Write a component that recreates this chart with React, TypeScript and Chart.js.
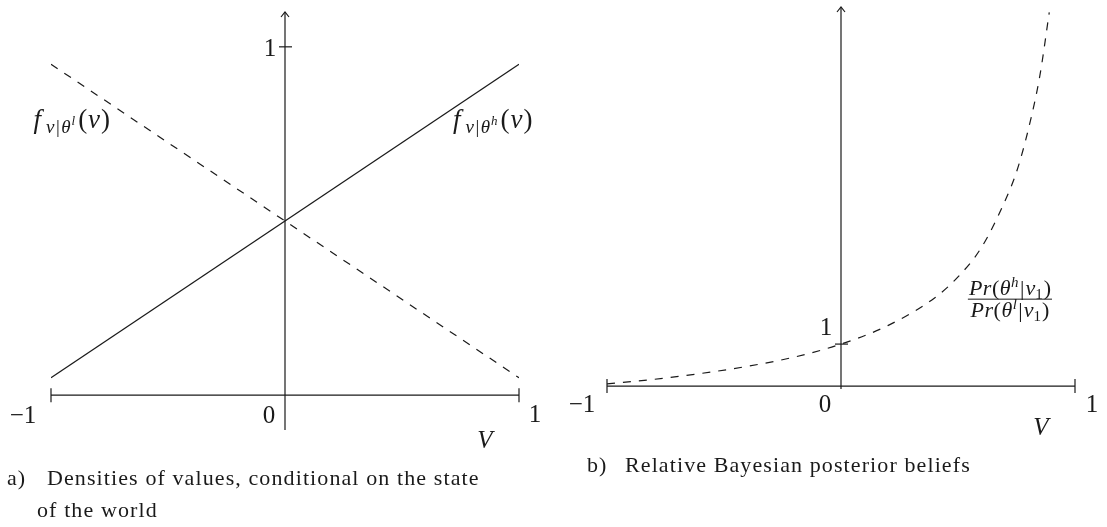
import React, { useEffect, useRef } from "react";
import { Chart, registerables } from "chart.js";

Chart.register(...registerables);

// Panel a: densities of the value V in the high and low state
const densityV = [-1, 1];
const densityHigh = [0.05, 0.95];
const densityLow = [0.95, 0.05];

// Panel b: ratio of posterior beliefs Pr(θh|v1) / Pr(θl|v1)
const ratioV = [-1, -0.8, -0.6, -0.4, -0.2, 0, 0.2, 0.4, 0.5, 0.6, 0.7, 0.75, 0.8, 0.85, 0.89];
const ratioValues = [0.05, 0.16, 0.3, 0.47, 0.69, 1.0, 1.44, 2.1, 2.6, 3.3, 4.4, 5.1, 6.1, 7.4, 8.9];

// Axis labels
const xTickValues = [-1, 0, 1];
const xTickLabels = ["\u22121", "0", "1"];
const yTickValue = 1;
const yTickLabel = "1";
const axisName = "V";

const captionA = ["a)", "Densities of values, conditional on the state", "of the world"];
const captionB = ["b)", "Relative Bayesian posterior beliefs"];

const SERIF = '"Liberation Serif", "Times New Roman", serif';
const INK = "#1a1a1a";

type Run = { t: string; size: number; italic?: boolean; dy?: number; gap?: number };

function setFont(ctx: CanvasRenderingContext2D, r: Run) {
  ctx.font = `${r.italic ? "italic " : ""}${r.size}px ${SERIF}`;
}

function runsWidth(ctx: CanvasRenderingContext2D, runs: Run[]) {
  let w = 0;
  for (const r of runs) {
    setFont(ctx, r);
    w += ctx.measureText(r.t).width + (r.gap || 0);
  }
  return w;
}

function drawRuns(ctx: CanvasRenderingContext2D, runs: Run[], x: number, baseline: number) {
  let cx = x;
  ctx.textAlign = "left";
  ctx.textBaseline = "alphabetic";
  for (const r of runs) {
    setFont(ctx, r);
    ctx.fillText(r.t, cx, baseline + (r.dy || 0));
    cx += ctx.measureText(r.t).width + (r.gap || 0);
  }
}

// f_{v|θ^s}(v)
function densityLabel(state: string): Run[] {
  return [
    { t: "f", size: 27, italic: true, gap: 5 },
    { t: "v", size: 19, italic: true, dy: 5, gap: 1.5 },
    { t: "|", size: 19, dy: 5, gap: 1.5 },
    { t: "\u03b8", size: 19, italic: true, dy: 5, gap: 1 },
    { t: state, size: 13, italic: true, dy: -3, gap: 3 },
    { t: "(", size: 27, gap: 1 },
    { t: "v", size: 27, italic: true, gap: 1 },
    { t: ")", size: 27 },
  ];
}

// Pr(θ^s|v_1)
function posteriorRuns(state: string): Run[] {
  return [
    { t: "P", size: 22, italic: true, gap: 0.5 },
    { t: "r", size: 22, italic: true, gap: 0.5 },
    { t: "(", size: 22, gap: 0.5 },
    { t: "\u03b8", size: 22, italic: true, gap: 0.5 },
    { t: state, size: 15, italic: true, dy: -8, gap: 1.5 },
    { t: "|", size: 22, gap: 1 },
    { t: "v", size: 22, italic: true },
    { t: "1", size: 15, dy: 4, gap: 1 },
    { t: ")", size: 22 },
  ];
}

type PanelDecor = {
  tickOffsets: [number, number][];
  axisNameOffset: [number, number];
  yLabelOffset: [number, number];
  extra: (ctx: CanvasRenderingContext2D, px: (v: number) => number, py: (v: number) => number) => void;
};

function panelAxes(decor: PanelDecor) {
  return {
    id: "panelAxes",
    afterDatasetsDraw(chart: Chart) {
      const { ctx, chartArea } = chart;
      const xs = chart.scales.x;
      const ys = chart.scales.y;
      const px = (v: number) => xs.getPixelForValue(v);
      const py = (v: number) => ys.getPixelForValue(v);
      const seg = (x1: number, y1: number, x2: number, y2: number) => {
        ctx.beginPath();
        ctx.moveTo(x1, y1);
        ctx.lineTo(x2, y2);
        ctx.stroke();
      };
      ctx.save();
      ctx.setLineDash([]);
      ctx.strokeStyle = INK;
      ctx.fillStyle = INK;
      ctx.lineWidth = 1.2;

      // horizontal value axis with bar ends
      const y0 = py(0);
      seg(px(xTickValues[0]), y0, px(xTickValues[2]), y0);
      seg(px(xTickValues[0]), y0 - 7, px(xTickValues[0]), y0 + 7);
      seg(px(xTickValues[2]), y0 - 7, px(xTickValues[2]), y0 + 7);

      // vertical axis with arrow head
      const x0 = px(0);
      seg(x0, chartArea.bottom, x0, chartArea.top);
      ctx.beginPath();
      ctx.moveTo(x0 - 4, chartArea.top + 5);
      ctx.lineTo(x0, chartArea.top);
      ctx.lineTo(x0 + 4, chartArea.top + 5);
      ctx.stroke();

      // unit tick on the vertical axis
      const y1 = py(yTickValue);
      seg(x0 - 6, y1, x0 + 7, y1);

      ctx.font = `25px ${SERIF}`;
      ctx.textAlign = "center";
      ctx.textBaseline = "alphabetic";
      xTickValues.forEach((v, i) => {
        const [dx, dy] = decor.tickOffsets[i];
        ctx.fillText(xTickLabels[i], px(v) + dx, y0 + dy);
      });
      ctx.fillText(yTickLabel, x0 + decor.yLabelOffset[0], y1 + decor.yLabelOffset[1]);
      ctx.font = `italic 25px ${SERIF}`;
      ctx.fillText(axisName, px(1) + decor.axisNameOffset[0], y0 + decor.axisNameOffset[1]);

      decor.extra(ctx, px, py);
      ctx.restore();
    },
  };
}

function drawCaption(ctx: CanvasRenderingContext2D, lines: { t: string; x: number; y: number }[]) {
  ctx.font = `22px ${SERIF}`;
  ctx.textAlign = "left";
  ctx.textBaseline = "alphabetic";
  (ctx as any).letterSpacing = "1.1px";
  for (const l of lines) ctx.fillText(l.t, l.x, l.y);
  (ctx as any).letterSpacing = "0px";
}

export default function App() {
  const leftRef = useRef<HTMLCanvasElement>(null);
  const rightRef = useRef<HTMLCanvasElement>(null);

  useEffect(() => {
    const common = {
      animation: false as const,
      responsive: false,
      plugins: { legend: { display: false }, tooltip: { enabled: false } },
      elements: { point: { radius: 0 } },
    };

    const left = new Chart(leftRef.current!, {
      type: "line",
      data: {
        datasets: [
          {
            data: densityV.map((v, i) => ({ x: v, y: densityHigh[i] })),
            borderColor: INK,
            borderWidth: 1.2,
          },
          {
            data: densityV.map((v, i) => ({ x: v, y: densityLow[i] })),
            borderColor: INK,
            borderWidth: 1.2,
            borderDash: [8, 8],
          },
        ],
      },
      options: {
        ...common,
        layout: { padding: { left: 51, right: 41, top: 12, bottom: 97 } },
        scales: {
          x: { type: "linear", min: -1, max: 1, display: false },
          y: { type: "linear", min: -0.1, max: 1.1, display: false },
        },
      },
      plugins: [
        panelAxes({
          tickOffsets: [[-28, 28], [-16, 28], [16, 27]],
          axisNameOffset: [-34, 53],
          yLabelOffset: [-15, 9],
          extra: (ctx, px, py) => {
            drawRuns(ctx, densityLabel("l"), px(-1.075), py(0.767));
            drawRuns(ctx, densityLabel("h"), px(0.718), py(0.767));
            drawCaption(ctx, [
              { t: captionA[0], x: 7, y: 485 },
              { t: captionA[1], x: 47, y: 485 },
              { t: captionA[2], x: 37, y: 517 },
            ]);
          },
        }) as any,
      ],
    });

    const right = new Chart(rightRef.current!, {
      type: "line",
      data: {
        datasets: [
          {
            data: ratioV.map((v, i) => ({ x: v, y: ratioValues[i] })),
            borderColor: INK,
            borderWidth: 1.2,
            borderDash: [8, 8],
            cubicInterpolationMode: "monotone",
          },
        ],
      },
      options: {
        ...common,
        layout: { padding: { left: 47, right: 32, top: 7, bottom: 138 } },
        scales: {
          x: { type: "linear", min: -1, max: 1, display: false },
          y: { type: "linear", min: -0.07, max: 9.03, display: false },
        },
      },
      plugins: [
        panelAxes({
          tickOffsets: [[-25, 26], [-16, 26], [17, 26]],
          axisNameOffset: [-34, 49],
          yLabelOffset: [-15, -9],
          extra: (ctx, px, py) => {
            const num = posteriorRuns("h");
            const den = posteriorRuns("l");
            const wn = runsWidth(ctx, num);
            const wd = runsWidth(ctx, den);
            const cx = px(0.722);
            const by = py(2.07);
            const w = Math.max(wn, wd) + 2;
            drawRuns(ctx, num, cx - wn / 2, by - 4);
            drawRuns(ctx, den, cx - wd / 2, by + 18);
            ctx.lineWidth = 1;
            ctx.beginPath();
            ctx.moveTo(cx - w / 2, by);
            ctx.lineTo(cx + w / 2, by);
            ctx.stroke();
            drawCaption(ctx, [
              { t: captionB[0], x: 587 - 560, y: 472 },
              { t: captionB[1], x: 625 - 560, y: 472 },
            ]);
          },
        }) as any,
      ],
    });

    return () => {
      left.destroy();
      right.destroy();
    };
  }, []);

  return (
    <div
      style={{
        position: "absolute",
        left: 0,
        top: 0,
        width: 1107,
        height: 527,
        background: "#ffffff",
        overflow: "hidden",
      }}
    >
      <canvas
        ref={leftRef}
        width={560}
        height={527}
        style={{ position: "absolute", left: 0, top: 0, width: 560, height: 527 }}
      />
      <canvas
        ref={rightRef}
        width={547}
        height={527}
        style={{ position: "absolute", left: 560, top: 0, width: 547, height: 527 }}
      />
    </div>
  );
}
